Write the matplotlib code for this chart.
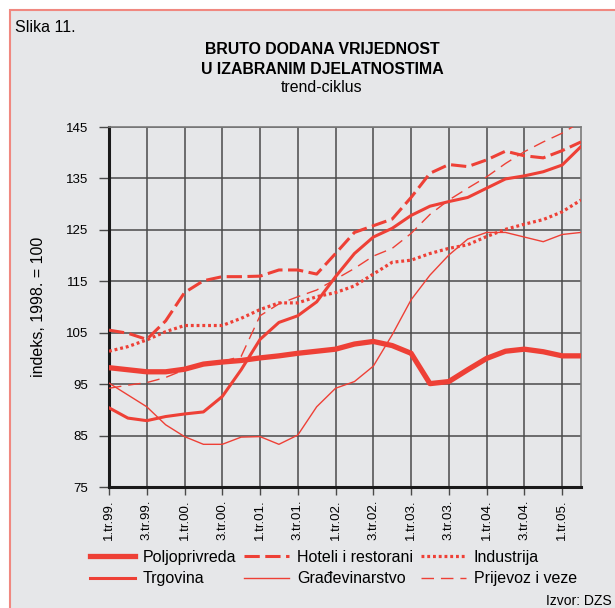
import matplotlib
matplotlib.use("Agg")
import matplotlib.pyplot as plt
from matplotlib.patches import Rectangle

plt.rcParams['font.family'] = ['Liberation Sans', 'DejaVu Sans']

quarters = ["1.tr.99.", "2.tr.99.", "3.tr.99.", "4.tr.99.",
            "1.tr.00.", "2.tr.00.", "3.tr.00.", "4.tr.00.",
            "1.tr.01.", "2.tr.01.", "3.tr.01.", "4.tr.01.",
            "1.tr.02.", "2.tr.02.", "3.tr.02.", "4.tr.02.",
            "1.tr.03.", "2.tr.03.", "3.tr.03.", "4.tr.03.",
            "1.tr.04.", "2.tr.04.", "3.tr.04.", "4.tr.04.",
            "1.tr.05.", "2.tr.05."]

poljoprivreda = [98.2, 97.8, 97.4, 97.4, 97.9, 98.9, 99.3, 99.6, 100.1, 100.5,
                 101.0, 101.4, 101.8, 102.8, 103.3, 102.5, 101.0, 95.1, 95.5, 97.8,
                 100.0, 101.4, 101.8, 101.3, 100.5, 100.5]
trgovina = [90.4, 88.4, 87.9, 88.7, 89.2, 89.6, 92.6, 97.8, 103.7, 107.0,
            108.3, 111.0, 115.9, 120.4, 123.6, 125.3, 127.8, 129.6, 130.5, 131.3,
            133.1, 134.9, 135.5, 136.3, 137.6, 141.2]
hoteli = [105.5, 104.9, 103.7, 107.3, 112.8, 115.1, 115.9, 115.9, 116.0, 117.2,
          117.2, 116.4, 120.4, 124.5, 125.8, 127.1, 131.3, 136.0, 137.7, 137.3,
          138.6, 140.3, 139.4, 139.0, 140.4, 142.1]
gradjevinarstvo = [95.2, 92.9, 90.6, 87.1, 84.8, 83.3, 83.3, 84.7, 84.8, 83.3,
                   85.1, 90.6, 94.2, 95.5, 98.5, 104.6, 111.4, 116.2, 120.1, 123.2,
                   124.5, 124.5, 123.6, 122.7, 124.1, 124.5]
industrija = [101.4, 102.3, 103.6, 105.2, 106.4, 106.4, 106.4, 107.8, 109.5, 110.8,
              110.8, 112.0, 112.8, 114.1, 116.4, 118.7, 119.1, 120.4, 121.4, 122.1,
              123.7, 125.1, 126.1, 127.0, 128.5, 130.8]
prijevoz = [94.2, 94.8, 95.3, 96.3, 97.8, 98.9, 99.4, 100.4, 108.3, 110.6,
            112.0, 113.3, 115.4, 117.5, 119.9, 121.4, 124.3, 128.0, 130.8, 133.1,
            135.3, 137.9, 140.2, 142.1, 143.8, 146.0]

y_ticks = [75, 85, 95, 105, 115, 125, 135, 145]

RED = '#EE4036'
BG = '#E6E7E9'
GRID = '#4a4a4a'

W, H = 615, 608
fig = plt.figure(figsize=(W / 100, H / 100), dpi=100, facecolor='white')
bgrect = Rectangle((10 / W, -0.1), 1.2, 1 - 10.5 / H + 0.1,
                   transform=fig.transFigure, facecolor=BG,
                   edgecolor='#F08880', lw=1.5, zorder=-10)
fig.patches.append(bgrect)

ax = fig.add_axes([109 / W, 1 - 487 / H, (581 - 109) / W, (487 - 127) / H])
ax.set_facecolor(BG)
x = list(range(len(quarters)))

ax.plot(x, gradjevinarstvo, color=RED, lw=1.0, label='Građevinarstvo', zorder=3)
ax.plot(x, prijevoz, color=RED, lw=1.0, dashes=(9, 5), label='Prijevoz i veze', zorder=3)
ax.plot(x, industrija, color=RED, lw=2.3, dashes=(0.9, 0.9), label='Industrija', zorder=3)
ax.plot(x, hoteli, color=RED, lw=2.2, dashes=(5, 1.8), label='Hoteli i restorani', zorder=3)
ax.plot(x, trgovina, color=RED, lw=2.2, label='Trgovina', zorder=3)
ax.plot(x, poljoprivreda, color=RED, lw=3.8, label='Poljoprivreda', zorder=4)

ax.set_xlim(0, len(quarters) - 1)
ax.set_ylim(75, 145)
ax.set_yticks(y_ticks)
ax.set_xticks(x[::2])
ax.set_xticklabels(quarters[::2], rotation=90, fontsize=9.5)
ax.tick_params(axis='y', labelsize=9.5, length=7, width=1, color=GRID, pad=8)
ax.tick_params(axis='x', length=6, width=1, color=GRID, pad=3)
ax.grid(True, color=GRID, lw=1.1, zorder=1)
ax.set_axisbelow(True)
for s in ['top', 'right']:
    ax.spines[s].set_color('#7a7a7a')
    ax.spines[s].set_linewidth(1.2)
for s in ['left', 'bottom']:
    ax.spines[s].set_color('#1a1a1a')
    ax.spines[s].set_linewidth(2.2)

ax.set_ylabel('indeks, 1998. = 100', fontsize=11.5, labelpad=14)

handles, labels = ax.get_legend_handles_labels()
order = ['Poljoprivreda', 'Trgovina', 'Hoteli i restorani', 'Građevinarstvo',
         'Industrija', 'Prijevoz i veze']
hmap = dict(zip(labels, handles))
fig.legend([hmap[k] for k in order], order, ncol=3, loc='upper left',
           bbox_to_anchor=(90 / W, 1 - 550 / H), frameon=False, fontsize=11.5,
           handlelength=2.8, columnspacing=0.5, labelspacing=0.4, handletextpad=0.5,
           borderaxespad=0, borderpad=0)

fig.text(15 / W, 1 - 28 / H, 'Slika 11.', fontsize=11.5, va='center', ha='left')
fig.text(322 / W, 1 - 49 / H, 'BRUTO DODANA VRIJEDNOST', fontsize=11.4,
         fontweight='bold', ha='center', va='center')
fig.text(322 / W, 1 - 69 / H, 'U IZABRANIM DJELATNOSTIMA', fontsize=11.4,
         fontweight='bold', ha='center', va='center')
fig.text(322 / W, 1 - 88 / H, 'trend-ciklus', fontsize=11.4, ha='center', va='center')
fig.text(612 / W, 1 - 601 / H, 'Izvor: DZS', fontsize=10, ha='right', va='center')

fig.savefig('out.png', dpi=100, facecolor=fig.get_facecolor())
